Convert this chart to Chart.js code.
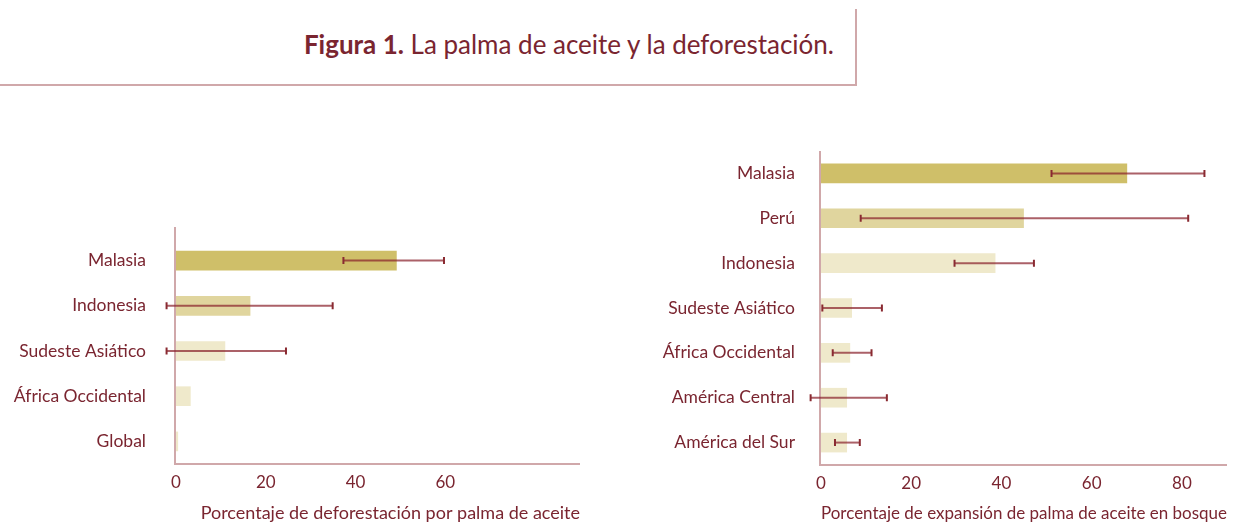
<!DOCTYPE html>
<html>
<head>
<meta charset="utf-8">
<script src="https://cdn.jsdelivr.net/npm/chart.js@4/dist/chart.umd.min.js"></script>
<style>
  body { margin: 0; background: #fff; width: 1239px; height: 524px; position: relative; overflow: hidden; font-family: Lato, sans-serif; color: #7a2530; }
  #title { position: absolute; left: 0; top: 9px; width: 855px; height: 75px; border-right: 2px solid #d0a8aa; border-bottom: 2px solid #d0a8aa; text-align: right; }
  #title div { position: absolute; right: 21px; top: 20px; font-size: 26px; line-height: 30px; white-space: nowrap; }
  #title b { font-weight: 700; }
  canvas { position: absolute; top: 100px; }
  #leftChart { left: 0; }
  #rightChart { left: 600px; }
</style>
</head>
<body>
<div id="title"><div><b>Figura 1.</b> La palma de aceite y la deforestación.</div></div>
<canvas id="leftChart" width="600" height="424"></canvas>
<canvas id="rightChart" width="639" height="424"></canvas>
<script>
/* Figura 1: palm oil and deforestation, two horizontal bar charts with error bars */

const TEXT = "#7a2530";
const AXIS = "#d0a8aa";
const GOLD = "#cfbf69";
const SAND = "#e0d59e";
const PALE = "#efe9cb";

// left panel: share of deforestation caused by oil palm
const leftCats = ["Malasia", "Indonesia", "Sudeste Asiático", "África Occidental", "Global"];
const leftVals = [49.1, 16.5, 10.9, 3.2, 0.4];
const leftLo = [37.3, -2.1, -2.1, null, null];
const leftHi = [59.7, 34.9, 24.5, null, null];
const leftColors = [GOLD, SAND, PALE, PALE, PALE];
const leftTicks = [0, 20, 40, 60];

// right panel: share of oil palm expansion into forest
const rightCats = ["Malasia", "Perú", "Indonesia", "Sudeste Asiático", "África Occidental", "América Central", "América del Sur"];
const rightVals = [67.8, 44.9, 38.6, 6.8, 6.4, 5.7, 5.7];
const rightLo = [51.1, 8.8, 29.6, 0.3, 2.6, -2.3, 3.1];
const rightHi = [85.0, 81.4, 47.2, 13.5, 11.2, 14.6, 8.6];
const rightColors = [GOLD, SAND, PALE, PALE, PALE, PALE, PALE];
const rightTicks = [0, 20, 40, 60, 80];

// draws axis lines + error bars (whiskers) from dataset errLo / errHi
const errorBars = {
  id: "errorBars",
  afterDatasetsDraw(chart) {
    const { ctx, chartArea: a, scales: { x } } = chart;
    const ds = chart.data.datasets[0];
    const meta = chart.getDatasetMeta(0);
    ctx.save();
    ctx.strokeStyle = AXIS;
    ctx.lineWidth = 2;
    ctx.beginPath();
    ctx.moveTo(a.left - 1, a.top - (ds.axisExtra || 0));
    ctx.lineTo(a.left - 1, a.bottom);
    ctx.lineTo(a.right, a.bottom);
    ctx.stroke();

    ds.errLo.forEach((lo, i) => {
      const hi = ds.errHi[i];
      if (lo == null || hi == null) return;
      const y = meta.data[i].y;
      const x1 = x.getPixelForValue(lo);
      const x2 = x.getPixelForValue(hi);
      ctx.strokeStyle = "rgba(135,30,40,0.7)";
      ctx.lineWidth = 2;
      ctx.beginPath();
      ctx.moveTo(x1, y);
      ctx.lineTo(x2, y);
      ctx.stroke();
      ctx.strokeStyle = "#8a2a31";
      ctx.beginPath();
      ctx.moveTo(x1, y - 3.5);
      ctx.lineTo(x1, y + 3.5);
      ctx.moveTo(x2, y - 3.5);
      ctx.lineTo(x2, y + 3.5);
      ctx.stroke();
    });
    ctx.restore();
  },
};

function makeChart(id, cats, vals, lo, hi, colors, ticks, opts) {
  return new Chart(document.getElementById(id), {
    type: "bar",
    data: {
      labels: cats,
      datasets: [{
        data: vals,
        errLo: lo,
        errHi: hi,
        axisExtra: opts.axisExtra,
        backgroundColor: colors,
        borderWidth: 0,
        barThickness: 19,
      }],
    },
    options: {
      indexAxis: "y",
      responsive: false,
      animation: false,
      layout: { padding: { top: opts.top, right: opts.right, left: 0, bottom: 0 } },
      plugins: { legend: { display: false }, tooltip: { enabled: false } },
      scales: {
        x: {
          min: 0,
          max: 90,
          grid: { display: false, drawTicks: false },
          border: { display: false },
          afterBuildTicks: (s) => { s.ticks = ticks.map((v) => ({ value: v })); },
          afterFit: (s) => { s.height = opts.xHeight; },
          ticks: { color: TEXT, font: { family: "Lato", size: 17 }, padding: 8, maxRotation: 0 },
          title: {
            display: true,
            text: opts.xTitle,
            align: opts.titleAlign,
            color: TEXT,
            font: { family: "Lato", size: 18 },
            padding: { top: 0, bottom: 0 },
          },
        },
        y: {
          grid: { display: false, drawTicks: false },
          border: { display: false },
          afterFit: (s) => { s.width = opts.yWidth; },
          ticks: { color: TEXT, font: { family: "Lato", size: 17.5 }, padding: opts.labelPad },
        },
      },
    },
    plugins: [errorBars],
  });
}

makeChart("leftChart", leftCats, leftVals, leftLo, leftHi, leftColors, leftTicks, {
  top: 138, right: 20, yWidth: 176, labelPad: 30, axisExtra: 11, xHeight: 60,
  titleAlign: "end",
  xTitle: "Porcentaje de deforestación por palma de aceite",
});

makeChart("rightChart", rightCats, rightVals, rightLo, rightHi, rightColors, rightTicks, {
  top: 51, right: 12, yWidth: 221, labelPad: 26, axisExtra: 0, xHeight: 59,
  titleAlign: "center",
  xTitle: "Porcentaje de expansión de palma de aceite en bosque",
});
</script>
</body>
</html>
